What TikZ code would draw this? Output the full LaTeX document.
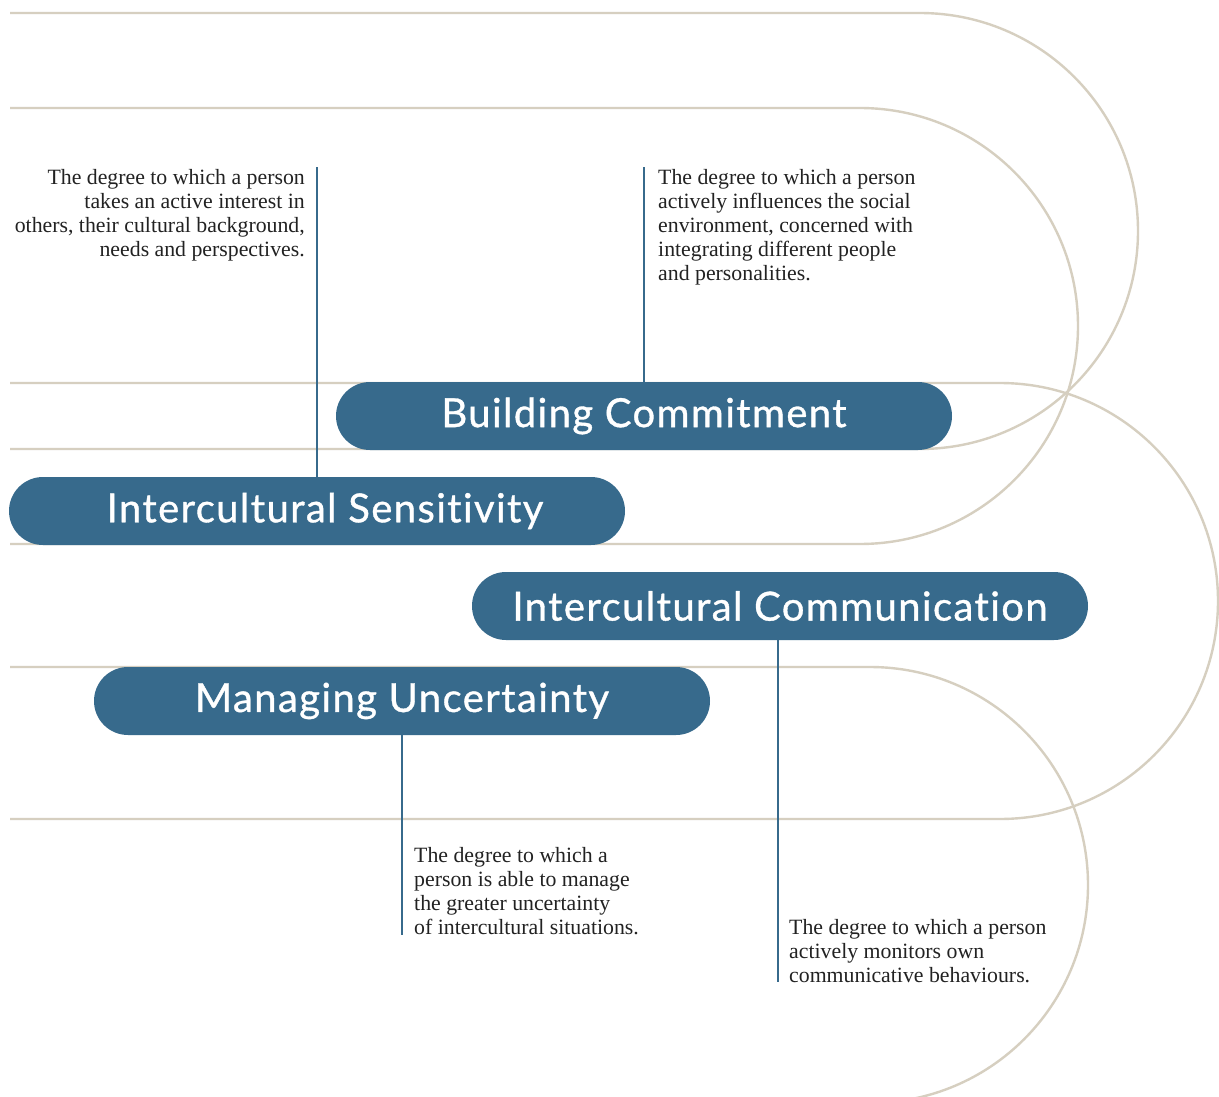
\documentclass[tikz,border=0pt]{standalone}
\usepackage{fontspec}
\setmainfont{Liberation Serif}
\newfontfamily\pillfont[Ligatures={NoCommon,NoRare},LetterSpace=3.5,FakeBold=0.9]{Lato}
\definecolor{pillblue}{HTML}{376A8C}
\definecolor{beige}{HTML}{D6CFC0}
\definecolor{txt}{HTML}{222222}
\begin{document}
\begin{tikzpicture}[x=1pt,y=1pt,
  curve/.style={draw=beige,line width=2.4pt},
  pill/.style={fill=pillblue,rounded corners=34pt,minimum width=616pt,minimum height=68pt,inner sep=0pt,text=white,font=\pillfont\fontsize{40}{48}\selectfont},
  link/.style={draw=pillblue,line width=2.4pt},
  desc/.style={inner sep=0pt,text=txt,font=\fontsize{21.8}{24}\selectfont}]
\useasboundingbox (0,0) rectangle (1219,-1097);
\fill[white] (0,0) rectangle (1219,-1097);
\clip (0,0) rectangle (1219,-1097);
% background curves
\draw[curve] (10,-13) -- (920,-13) arc[start angle=90,end angle=-90,radius=218pt] -- (10,-449);
\draw[curve] (10,-108) -- (860,-108) arc[start angle=90,end angle=-90,radius=218pt] -- (10,-544);
\draw[curve] (10,-383) -- (1000,-383) arc[start angle=90,end angle=-90,radius=218pt] -- (10,-819);
\draw[curve] (10,-667) -- (870,-667) arc[start angle=90,end angle=-90,radius=218pt];
% pills
\node[pill] (bc) at (644,-416) {Building Commitment};
\node[pill] (is) at (317,-511) {\hspace*{16pt}Intercultural Sensitivity};
\node[pill] (ic) at (780,-606) {Intercultural Communication};
\node[pill] (mu) at (402,-701) {Managing Uncertainty};
% link ends
\coordinate (isend) at (317,-167);
\coordinate (bcend) at (644,-167);
\coordinate (muend) at (402,-935);
\coordinate (icstart) at (778,-640);
\coordinate (icend) at (778,-982);
\draw[link] (is.north) -- (isend);
\draw[link] (bc.north) -- (bcend);
\draw[link] (mu.south) -- (muend);
\draw[link] (icstart) -- (icend);
% descriptions
\node[desc,anchor=base east] (isd) at (305,-185) {\parbox[t]{300pt}{\raggedleft The degree to which a person\\ takes an active interest in\\ others, their cultural background,\\ needs and perspectives.}};
\node[desc,anchor=base west] (bcd) at (658,-185) {\parbox[t]{300pt}{\raggedright The degree to which a person\\ actively influences the social\\ environment, concerned with\\ integrating different people\\ and personalities.}};
\node[desc,anchor=base west] (mud) at (414,-862) {\parbox[t]{300pt}{\raggedright The degree to which a\\ person is able to manage\\ the greater uncertainty\\ of intercultural situations.}};
\node[desc,anchor=base west] (icd) at (789,-934) {\parbox[t]{300pt}{\raggedright The degree to which a person\\ actively monitors own\\ communicative behaviours.}};
\end{tikzpicture}
\end{document}
